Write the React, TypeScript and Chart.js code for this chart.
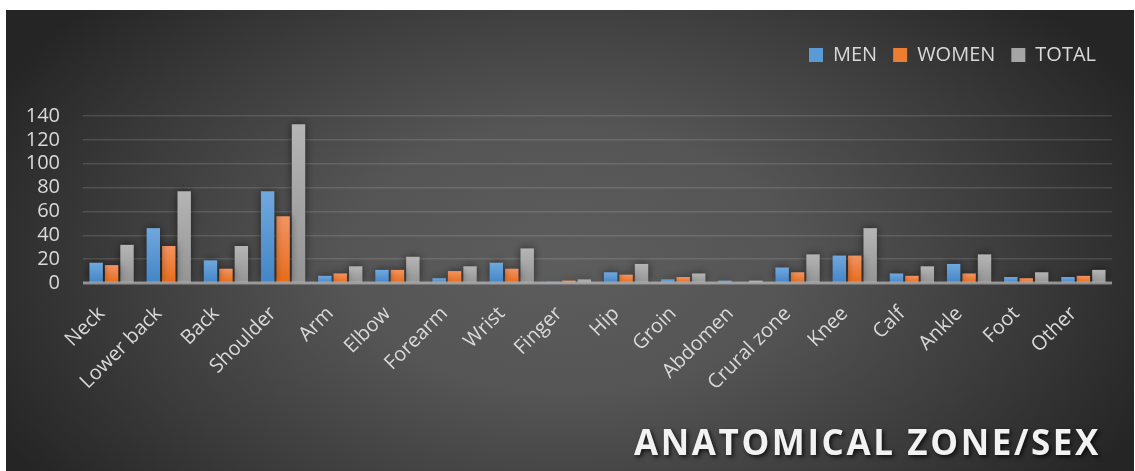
import { useEffect, useRef } from 'react';
import { Chart, registerables } from 'chart.js';

Chart.register(...registerables);

const categories = ['Neck', 'Lower back', 'Back', 'Shoulder', 'Arm', 'Elbow', 'Forearm', 'Wrist', 'Finger', 'Hip', 'Groin', 'Abdomen', 'Crural zone', 'Knee', 'Calf', 'Ankle', 'Foot', 'Other'];
const menValues = [17, 46, 19, 77, 6, 11, 4, 17, 1, 9, 3, 2, 13, 23, 8, 16, 5, 5];
const womenValues = [15, 31, 12, 56, 8, 11, 10, 12, 2, 7, 5, 0, 9, 23, 6, 8, 4, 6];
const totalValues = [32, 77, 31, 133, 14, 22, 14, 29, 3, 16, 8, 2, 24, 46, 14, 24, 9, 11];
const seriesLabels = ['MEN', 'WOMEN', 'TOTAL'];
const yMin = 0;
const yMax = 140;
const yStep = 20;
const chartTitle = 'ANATOMICAL ZONE/SEX';

const FONT = '"Open Sans", "Noto Sans", sans-serif';
const legendColors = ['#5b9bd5', '#ed7d31', '#a5a5a5'];

function barGradient(top: string, bottom: string) {
  return (c: any) => {
    const chart = c.chart;
    const y = chart.scales && chart.scales.y;
    if (!chart.chartArea || !y || c.raw == null) return bottom;
    const yTop = y.getPixelForValue(c.raw);
    const yBase = y.getPixelForValue(0);
    if (!isFinite(yTop) || !isFinite(yBase) || yBase - yTop < 1) return top;
    const g = chart.ctx.createLinearGradient(0, yTop, 0, yBase);
    g.addColorStop(0, top);
    g.addColorStop(1, bottom);
    return g;
  };
}

const bgPlugin = {
  id: 'bgPlugin',
  beforeInit(chart: any) {
    const legend = chart.legend;
    if (legend) {
      const origFit = legend.fit;
      legend.fit = function () {
        origFit.call(this);
        this.height = 87;
      };
    }
  },
  beforeDraw(chart: any) {
    const { ctx, width, height } = chart;
    const cx = 560;
    const cy = 250;
    const sy = 0.6;
    ctx.save();
    ctx.translate(cx, cy);
    ctx.scale(1, sy);
    const g = ctx.createRadialGradient(0, 0, 0, 0, 0, 640);
    g.addColorStop(0, '#5d5d5d');
    g.addColorStop(0.35, '#555555');
    g.addColorStop(0.7, '#3c3c3c');
    g.addColorStop(1, '#252525');
    ctx.fillStyle = g;
    ctx.fillRect(-cx, -cy / sy, width, height / sy);
    ctx.restore();
  },
  beforeDatasetsDraw(chart: any) {
    const c = chart.ctx;
    c.save();
    c.shadowColor = 'rgba(0,0,0,0.55)';
    c.shadowBlur = 8;
    c.shadowOffsetX = 0;
    c.shadowOffsetY = 0;
  },
  afterDatasetsDraw(chart: any) {
    const { ctx, chartArea } = chart;
    ctx.restore();
    const y = chart.scales.y.getPixelForValue(0);
    ctx.save();
    ctx.strokeStyle = 'rgba(210,210,210,0.55)';
    ctx.lineWidth = 3;
    ctx.beginPath();
    ctx.moveTo(chartArea.left, y);
    ctx.lineTo(chartArea.right, y);
    ctx.stroke();
    ctx.restore();
  },
  afterDraw(chart: any) {
    const ctx = chart.ctx;
    ctx.save();
    ctx.font = `bold 35px ${FONT}`;
    try { (ctx as any).letterSpacing = '2.6px'; } catch (e) { /* ignore */ }
    ctx.textAlign = 'right';
    ctx.textBaseline = 'alphabetic';
    ctx.fillStyle = '#f2f2f2';
    ctx.shadowColor = 'rgba(0,0,0,0.75)';
    ctx.shadowBlur = 4;
    ctx.shadowOffsetX = 2;
    ctx.shadowOffsetY = 2;
    ctx.fillText(chartTitle, 1095, 445);
    ctx.restore();
  },
};

export default function App() {
  const canvasRef = useRef<HTMLCanvasElement | null>(null);

  useEffect(() => {
    document.body.style.margin = '0';
    const canvas = canvasRef.current;
    if (!canvas) return;
    const chart = new Chart(canvas, {
      type: 'bar',
      data: {
        labels: categories,
        datasets: [
          { label: seriesLabels[0], data: menValues, backgroundColor: barGradient('#70a8de', '#4385c6') as any, borderWidth: 0 },
          { label: seriesLabels[1], data: womenValues, backgroundColor: barGradient('#f39462', '#e86b1a') as any, borderWidth: 0 },
          { label: seriesLabels[2], data: totalValues, backgroundColor: barGradient('#b5b5b5', '#949494') as any, borderWidth: 0 },
        ],
      },
      options: {
        responsive: false,
        animation: false,
        devicePixelRatio: 1,
        layout: { padding: { top: 19, right: 22, left: 0, bottom: 0 } },
        datasets: { bar: { categoryPercentage: 0.81, barPercentage: 0.87 } },
        plugins: {
          title: { display: false },
          tooltip: { enabled: false },
          legend: {
            display: true,
            position: 'top',
            align: 'end',
            labels: {
              boxWidth: 14,
              boxHeight: 14,
              padding: 16,
              color: '#d9d9d9',
              font: { family: FONT, size: 20 },
              generateLabels: (ch: any) =>
                (Chart.defaults.plugins.legend.labels.generateLabels as any)(ch).map((l: any, i: number) => ({
                  ...l,
                  fillStyle: legendColors[i],
                  strokeStyle: legendColors[i],
                  lineWidth: 0,
                })),
            },
          },
        },
        scales: {
          x: {
            grid: { display: false },
            border: { display: false },
            ticks: {
              color: '#d9d9d9',
              font: { family: FONT, size: 20 },
              minRotation: 45,
              maxRotation: 45,
              autoSkip: false,
              padding: 11,
              labelOffset: -10,
            },
            afterFit: (s: any) => { s.height = 188; },
          },
          y: {
            min: yMin,
            max: yMax,
            grid: { color: 'rgba(255,255,255,0.13)', lineWidth: 1.5, drawTicks: false },
            border: { display: false },
            ticks: {
              stepSize: yStep,
              autoSkip: false,
              color: '#d9d9d9',
              font: { family: FONT, size: 20 },
              padding: 23,
            },
            afterFit: (s: any) => { s.width = 77; },
          },
        },
      },
      plugins: [bgPlugin],
    } as any);
    return () => chart.destroy();
  }, []);

  return (
    <div style={{ position: 'fixed', left: 6, top: 10, width: 1128, height: 461 }}>
      <canvas ref={canvasRef} width={1128} height={461} style={{ display: 'block' }} />
    </div>
  );
}
